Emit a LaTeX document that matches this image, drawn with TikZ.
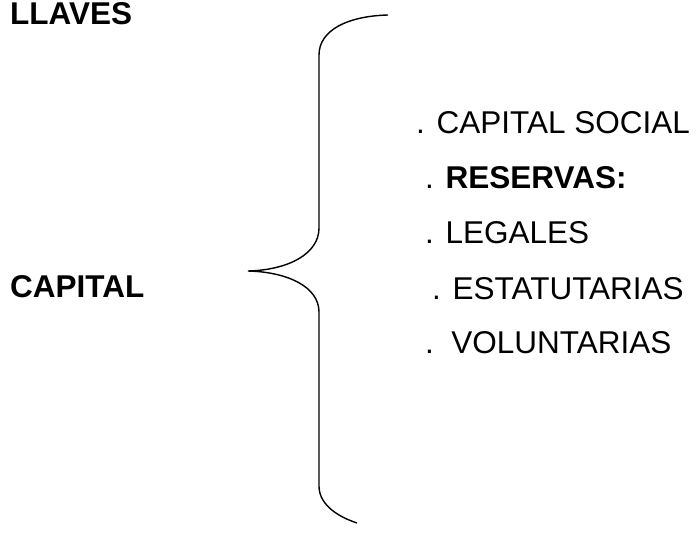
\documentclass[tikz,border=0pt]{standalone}
\usepackage{fontspec}
\setmainfont{Liberation Sans}
\usepackage{tikz}

\begin{document}
\begin{tikzpicture}[x=1pt,y=-1pt,
    every node/.style={inner sep=0pt,anchor=base west,font=\fontsize{31.5}{38}\selectfont}]
    \useasboundingbox (0,0) rectangle (698,533);

    % Titles
    \node[font=\fontsize{31.5}{38}\selectfont\bfseries] (llaves) at (10,24) {LLAVES};
    \node[font=\fontsize{31.5}{38}\selectfont\bfseries] (capital) at (10,297) {CAPITAL};

    % Brace
    \draw[line width=1.4pt] (388,15) .. controls (348,16) and (319,30) .. (319,55)
      -- (319,228) .. controls (319,254) and (288,270) .. (248,271)
      .. controls (288,272) and (319,287) .. (319,312)
      -- (319,486) .. controls (319,502) and (333,515) .. (357,523);

    % Items
    \node (social) at (416,133) {. CAPITAL SOCIAL};
    \node (reservas) at (425,188) {. \textbf{RESERVAS:}};
    \node (legales) at (425,243) {. LEGALES};
    \node (estatutarias) at (432,299) {. ESTATUTARIAS};
    \node (voluntarias) at (425,353) {.\ \ VOLUNTARIAS};
\end{tikzpicture}
\end{document}
